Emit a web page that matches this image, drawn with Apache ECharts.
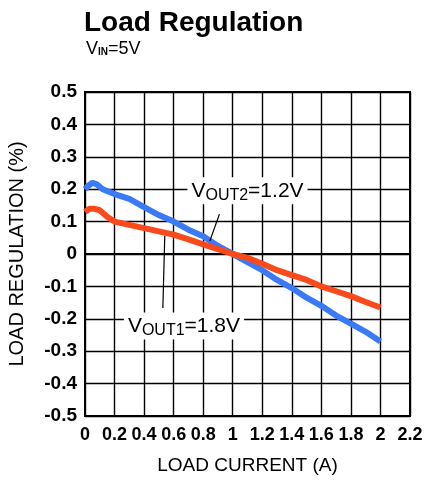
<!DOCTYPE html>
<html>
<head>
<meta charset="utf-8">
<script src="https://cdn.jsdelivr.net/npm/echarts@6/dist/echarts.min.js"></script>
<style>
  html, body { margin: 0; padding: 0; background: #fff; }
  #chart { width: 425px; height: 481px; }
</style>
</head>
<body>
<div id="chart"></div>
<script>
// Load current (A) vs load regulation (%)
const vout2X = [0, 0.02, 0.05, 0.08, 0.12, 0.2, 0.3, 0.4, 0.5, 0.6, 0.7, 0.8, 0.9, 1.0, 1.1, 1.2, 1.3, 1.4, 1.5, 1.6, 1.7, 1.8, 1.9, 2.0];
const vout2Y = [0.2, 0.21, 0.22, 0.215, 0.2, 0.185, 0.17, 0.145, 0.12, 0.1, 0.075, 0.055, 0.025, 0.0, -0.025, -0.05, -0.08, -0.105, -0.135, -0.16, -0.19, -0.215, -0.24, -0.27];
const vout1X = [0, 0.03, 0.06, 0.1, 0.15, 0.2, 0.3, 0.4, 0.5, 0.6, 0.7, 0.8, 0.9, 1.0, 1.1, 1.2, 1.3, 1.4, 1.5, 1.6, 1.7, 1.8, 1.9, 2.0];
const vout1Y = [0.13, 0.14, 0.14, 0.135, 0.115, 0.1, 0.09, 0.08, 0.07, 0.06, 0.045, 0.03, 0.015, 0.0, -0.012, -0.03, -0.05, -0.065, -0.08, -0.1, -0.115, -0.13, -0.148, -0.165];
const xTicks = [0, 0.2, 0.4, 0.6, 0.8, 1, 1.2, 1.4, 1.6, 1.8, 2, 2.2];
const yTicks = [-0.5, -0.4, -0.3, -0.2, -0.1, 0, 0.1, 0.2, 0.3, 0.4, 0.5];

const zip = (xs, ys) => xs.map((x, i) => [x, ys[i]]);
const fmt = (v) => {
  const r = Math.round(v * 10) / 10;
  return Number.isInteger(r) ? String(r) : r.toFixed(1);
};

const font = 'Liberation Sans, Arial, sans-serif';
const chart = echarts.init(document.getElementById('chart'));

const leader = (a, b) => ({
  silent: true,
  symbol: 'none',
  lineStyle: { color: '#000', width: 1.2, type: 'solid' },
  label: { show: false },
  data: [[{ coord: a }, { coord: b }]],
});

const labelRich = {
  v: { fontSize: 21, fontFamily: font, color: '#000' },
  s: { fontSize: 16, fontFamily: font, color: '#000', padding: [9, 0, 0, 0] },
};

const tag = (coord, sub, tail) => ({
  silent: true,
  symbol: 'rect',
  symbolSize: 0,
  data: [{
    coord,
    label: {
      show: true,
      position: 'inside',
      backgroundColor: '#fff',
      padding: [1, 4, 1, 4],
      formatter: '{v|V}{s|' + sub + '}{v|' + tail + '}',
      rich: labelRich,
    },
  }],
});

chart.setOption({
  animation: false,
  title: [
    {
      text: 'Load Regulation',
      left: 79, top: 4,
      textStyle: { fontSize: 28, fontWeight: 'bold', fontFamily: font, color: '#000' },
    },
    {
      text: '{v|V}{s|IN}{v|=5V}',
      left: 81, top: 35,
      textStyle: {
        fontWeight: 'normal',
        rich: {
          v: { fontSize: 18, fontWeight: 'normal', fontFamily: font, color: '#000' },
          s: { fontSize: 10, fontFamily: font, fontWeight: 'bold', color: '#000', padding: [7, 0, 0, 0] },
        },
      },
    },
  ],
  grid: { left: 85, top: 92, width: 325, height: 324, outerBoundsMode: 'none', containLabel: false },
  xAxis: {
    type: 'value',
    min: xTicks[0],
    max: xTicks[xTicks.length - 1],
    interval: 0.2,
    name: 'LOAD CURRENT (A)',
    nameLocation: 'middle',
    nameGap: 40,
    nameTextStyle: { fontSize: 19, fontFamily: font, color: '#000' },
    axisLine: { show: true, lineStyle: { color: '#000', width: 2 } },
    axisTick: { show: false },
    axisLabel: {
      formatter: fmt, fontSize: 18, fontWeight: 'bold', fontFamily: font, color: '#000', margin: 10,
      hideOverlap: false, showMaxLabel: true, showMinLabel: true,
    },
    splitLine: { show: true, lineStyle: { color: '#000', width: 1.4 } },
  },
  yAxis: {
    type: 'value',
    min: yTicks[0],
    max: yTicks[yTicks.length - 1],
    interval: 0.1,
    name: 'LOAD REGULATION (%)',
    nameLocation: 'middle',
    nameGap: 58,
    nameTextStyle: { fontSize: 20, fontFamily: font, color: '#000' },
    axisLine: { show: true, lineStyle: { color: '#000', width: 2 } },
    axisTick: { show: false },
    axisLabel: { formatter: fmt, fontSize: 19, fontWeight: 'bold', fontFamily: font, color: '#000', margin: 8 },
    splitLine: { show: true, lineStyle: { color: '#000', width: 1.4 } },
  },
  graphic: [{
    type: 'rect',
    shape: { x: 85, y: 92, width: 325, height: 324 },
    style: { fill: 'none', stroke: '#000', lineWidth: 2 },
    silent: true,
  }],
  series: [
    {
      name: 'VOUT2=1.2V',
      type: 'line',
      data: zip(vout2X, vout2Y),
      showSymbol: false,
      lineStyle: { color: '#3a7af7', width: 6 },
      z: 3,
      markLine: leader([0.91, 0.123], [0.845, 0.04]),
      markPoint: tag([1.1, 0.195], 'OUT2', '=1.2V'),
    },
    {
      name: 'VOUT1=1.8V',
      type: 'line',
      data: zip(vout1X, vout1Y),
      showSymbol: false,
      lineStyle: { color: '#fa4a1c', width: 6 },
      z: 4,
      markLine: leader([0.54, 0.056], [0.527, -0.167]),
      markPoint: tag([0.67, -0.222], 'OUT1', '=1.8V'),
    },
  ],
});
</script>
</body>
</html>
